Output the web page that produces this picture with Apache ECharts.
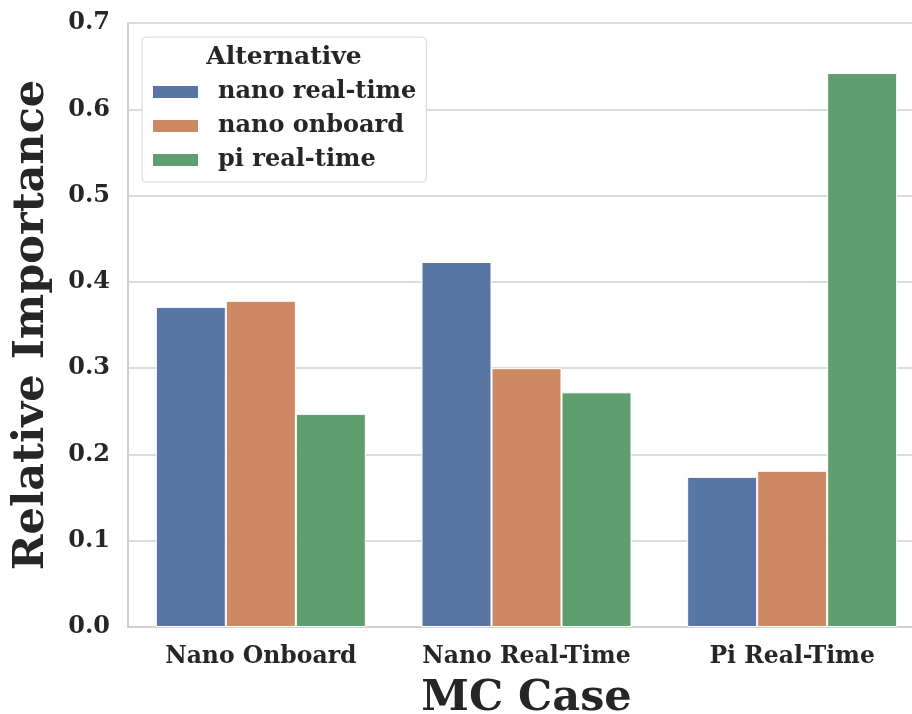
<!DOCTYPE html>
<html>
<head>
<meta charset="utf-8">
<script src="https://cdn.jsdelivr.net/npm/echarts@6/dist/echarts.min.js"></script>
<style>
  html, body { margin: 0; padding: 0; background: #fff; }
  #chart { width: 912px; height: 714px; }
</style>
</head>
<body>
<div id="chart"></div>
<script>
const categories = ['Nano Onboard', 'Nano Real-Time', 'Pi Real-Time']
const nanoRealTime = [0.371, 0.423, 0.174]
const nanoOnboard = [0.378, 0.300, 0.181]
const piRealTime = [0.247, 0.272, 0.642]
const yTicks = [0, 0.7, 0.1]  // min, max, interval

const font = 'DejaVu Serif'
const ink = '#262626'

let chart = echarts.init(document.getElementById('chart'))

function bar (name, data, color) {
  return {
    name: name,
    type: 'bar',
    data: data,
    barWidth: 70,
    barGap: '0%',
    itemStyle: { color: color, borderColor: '#fff', borderWidth: 1 }
  }
}

let option = {
  backgroundColor: '#fff',
  animation: false,
  grid: {
    left: 128,
    top: 23,
    width: 797,
    height: 604,
    outerBoundsMode: 'none'
  },
  legend: {
    orient: 'vertical',
    left: 142,
    top: 37,
    padding: [42, 10, 9, 9],
    itemWidth: 47,
    itemHeight: 14,
    itemGap: 8,
    backgroundColor: '#fff',
    borderColor: '#d6d6d6',
    borderWidth: 1,
    borderRadius: 4,
    icon: 'rect',
    textStyle: {
      fontFamily: font,
      fontWeight: 'bold',
      fontSize: 24,
      lineHeight: 26,
      color: ink,
      padding: [0, 0, 0, 14]
    }
  },
  graphic: [{
    type: 'text',
    x: 284,
    y: 57,
    z: 100,
    style: {
      text: 'Alternative',
      textAlign: 'center',
      textVerticalAlign: 'middle',
      fontFamily: font,
      fontWeight: 'bold',
      fontSize: 25,
      fill: ink
    }
  }],
  xAxis: {
    type: 'category',
    data: categories,
    name: 'MC Case',
    nameLocation: 'middle',
    nameGap: 50,
    nameTextStyle: { fontFamily: font, fontWeight: 'bold', fontSize: 43, color: ink },
    axisLine: { show: true, lineStyle: { color: '#d0d0d0', width: 2 } },
    axisTick: { show: false },
    axisLabel: { interval: 0, fontFamily: font, fontWeight: 'bold', fontSize: 23.5, color: ink, margin: 18 },
    splitLine: { show: false }
  },
  yAxis: {
    type: 'value',
    min: yTicks[0],
    max: yTicks[1],
    interval: yTicks[2],
    name: 'Relative Importance',
    nameLocation: 'middle',
    nameGap: 75,
    nameTextStyle: { fontFamily: font, fontWeight: 'bold', fontSize: 43, color: ink },
    axisLine: { show: true, lineStyle: { color: '#d0d0d0', width: 2 } },
    axisTick: { show: false },
    axisLabel: {
      fontFamily: font, fontWeight: 'bold', fontSize: 24, color: ink, margin: 18,
      formatter: v => v.toFixed(1)
    },
    splitLine: { show: true, lineStyle: { color: '#dcdcdc', width: 2 } }
  },
  series: [
    bar('nano real-time', nanoRealTime, '#5975a4'),
    bar('nano onboard', nanoOnboard, '#cc8963'),
    bar('pi real-time', piRealTime, '#5f9e6e')
  ]
}
chart.setOption(option)
</script>
</body>
</html>
